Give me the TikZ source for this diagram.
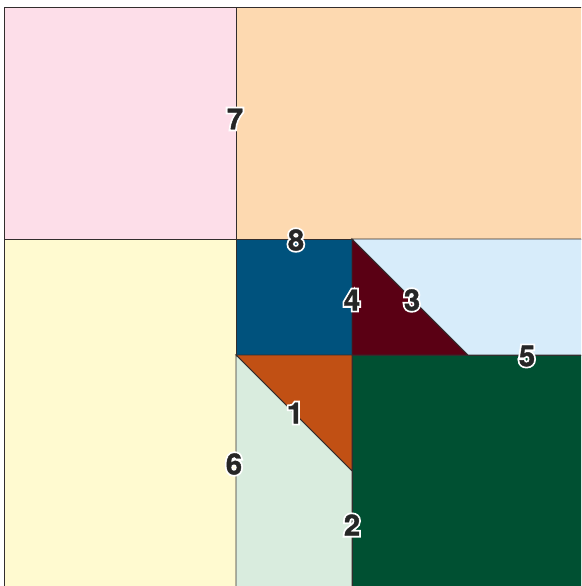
\documentclass[tikz,border=0pt]{standalone}
\usepackage{fontspec}
\setmainfont{TeX Gyre Heros}
\newfontfamily\halofont[FakeBold=14]{TeX Gyre Heros Bold}
\newfontfamily\digitfont[FakeBold=1.5]{TeX Gyre Heros Bold}
\definecolor{cpink}{RGB}{253,222,233}
\definecolor{cpeach}{RGB}{253,217,176}
\definecolor{cyellow}{RGB}{255,250,208}
\definecolor{cblue}{RGB}{0,82,125}
\definecolor{cdred}{RGB}{90,0,20}
\definecolor{clblue}{RGB}{215,236,250}
\definecolor{corange}{RGB}{193,80,20}
\definecolor{clgreen}{RGB}{217,236,222}
\definecolor{cdgreen}{RGB}{0,80,50}
\definecolor{cedge}{RGB}{50,45,45}
\tikzset{
  piece/.style={draw=cedge, line width=0.9pt, line join=miter},
  halo/.style={font=\fontsize{29}{29}\halofont, text=white, inner sep=0pt},
  lbl/.style={font=\fontsize{29}{29}\digitfont, text=black!85, inner sep=0pt}
}
\begin{document}
\begin{tikzpicture}[x=1pt,y=-1pt]
\useasboundingbox (0,0) rectangle (581,586);
\clip (0,0) rectangle (581,586);
\fill[white] (0,0) rectangle (581,586);
\filldraw[piece, fill=cpink] (4,7) -- (236,7) -- (236,239) -- (4,239) -- cycle;
\filldraw[piece, fill=cpeach] (236,7) -- (585,7) -- (585,239) -- (236,239) -- cycle;
\filldraw[piece, fill=cyellow] (4,239) -- (236,239) -- (236,588) -- (4,588) -- cycle;
\filldraw[piece, fill=cblue] (236,239) -- (352,239) -- (352,355) -- (236,355) -- cycle;
\filldraw[piece, fill=cdred] (352,239) -- (352,355) -- (468,355) -- cycle;
\filldraw[piece, fill=clblue] (352,239) -- (585,239) -- (585,355) -- (468,355) -- cycle;
\filldraw[piece, fill=corange] (236,355) -- (352,355) -- (352,471) -- cycle;
\filldraw[piece, fill=clgreen] (236,355) -- (352,471) -- (352,588) -- (236,588) -- cycle;
\filldraw[piece, fill=cdgreen] (352,355) -- (585,355) -- (585,588) -- (352,588) -- cycle;
\foreach \d/\px/\py in {7/235/119, 8/296/240, 4/352/300, 3/412/300, 5/527/356, 1/295/413, 6/234/464, 2/352/525}{
  \node[halo] (h\d) at (\px,\py) {\d};
  \node[lbl] (n\d) at (\px,\py) {\d};
}
\end{tikzpicture}
\end{document}
